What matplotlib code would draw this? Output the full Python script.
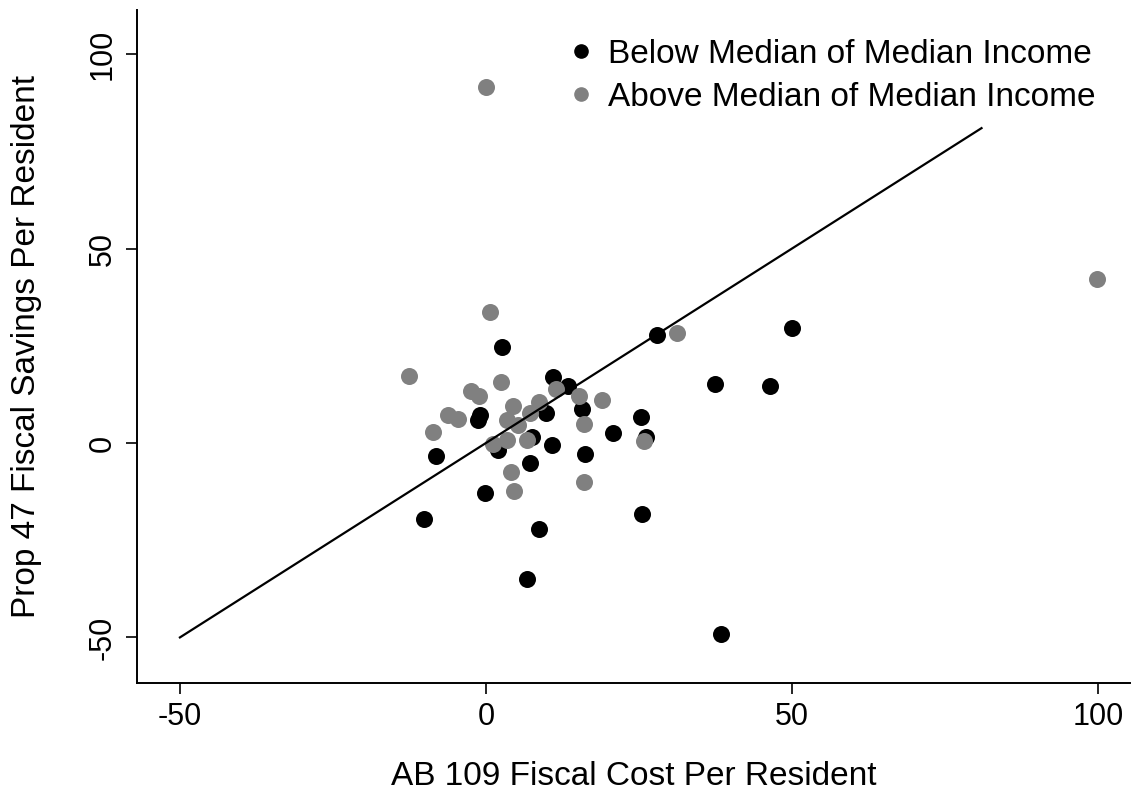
import matplotlib
matplotlib.use("Agg")
import matplotlib.pyplot as plt
from matplotlib.lines import Line2D

plt.rcParams['font.family'] = ['Liberation Sans', 'DejaVu Sans']
plt.rcParams['axes.unicode_minus'] = False

# counties below the median of median household income
below_x = [-10.1, -8.1, -1.0, -1.3, 2.6, 2.0, -0.1, 6.65, 8.7, 7.2, 7.5, 9.9, 10.8,
           11.0, 13.4, 15.7, 16.2, 20.8, 25.4, 26.2, 25.5, 27.9, 37.5, 46.4, 50.0, 38.4]
below_y = [-19.5, -3.3, 7.2, 5.9, 24.8, -1.8, -12.9, -35.0, -22.2, -5.2, 1.6, 7.8, -0.5,
           17.0, 14.7, 8.7, -2.8, 2.5, 6.6, 1.6, -18.3, 27.8, 15.1, 14.7, 29.5, -49.1]

# counties above the median
above_x = [0.0, 0.65, -12.5, 2.45, -2.4, -1.1, 11.5, 15.3, 18.9, 4.4, 8.6, 7.2, 3.4,
           5.3, 16.1, -6.2, -4.5, -8.7, 1.2, 3.4, 6.8, 25.9, 4.1, 4.6, 16.1, 31.3, 99.9]
above_y = [91.5, 33.8, 17.2, 15.6, 13.5, 12.0, 14.0, 12.1, 11.1, 9.6, 10.6, 7.6, 5.9,
           4.6, 5.0, 7.3, 6.1, 2.9, -0.2, 0.9, 0.8, 0.4, -7.5, -12.3, -10.1, 28.2, 42.2]

# 45 degree reference line
line_x = [-50, 81]
line_y = [-50, 81]

fig = plt.figure(figsize=(11.33, 7.95), dpi=100)
ax = fig.add_axes([0.121, 0.141, 0.876, 0.846])

ax.scatter(below_x, below_y, s=150, color='black', linewidths=0, zorder=2)
ax.scatter(above_x, above_y, s=150, color='#808080', linewidths=0, zorder=3)
ax.plot(line_x, line_y, color='black', linewidth=1.6, zorder=4)

ax.set_xlim(-57, 105.2)
ax.set_ylim(-61.7, 111.3)
ax.set_xticks([-50, 0, 50, 100])
ax.set_yticks([-50, 0, 50, 100])
ax.tick_params(labelsize=22, length=8, width=1.2, direction='out', pad=6)
for lab in ax.get_yticklabels():
    lab.set_rotation(90)
    lab.set_va('center')

for side in ['top', 'right']:
    ax.spines[side].set_visible(False)
for side in ['left', 'bottom']:
    ax.spines[side].set_linewidth(1.4)

ax.set_xlabel('AB 109 Fiscal Cost Per Resident', fontsize=24, va='center')
ax.set_ylabel('Prop 47 Fiscal Savings Per Resident', fontsize=24, va='center')
ax.xaxis.set_label_coords(0.5, -0.1395)
ax.yaxis.set_label_coords(-0.111, 0.5)

handles = [
    Line2D([], [], linestyle='none', marker='o', markersize=9.5, color='black'),
    Line2D([], [], linestyle='none', marker='o', markersize=9.5, color='#808080'),
]
ax.legend(handles, ['Below Median of Median Income', 'Above Median of Median Income'],
          loc='upper left', bbox_to_anchor=(0.437, 0.9576), frameon=False, fontsize=24,
          handlelength=0.6, handletextpad=0.52, labelspacing=0.35, borderpad=0,
          borderaxespad=0)

fig.savefig('out.png', dpi=100)
